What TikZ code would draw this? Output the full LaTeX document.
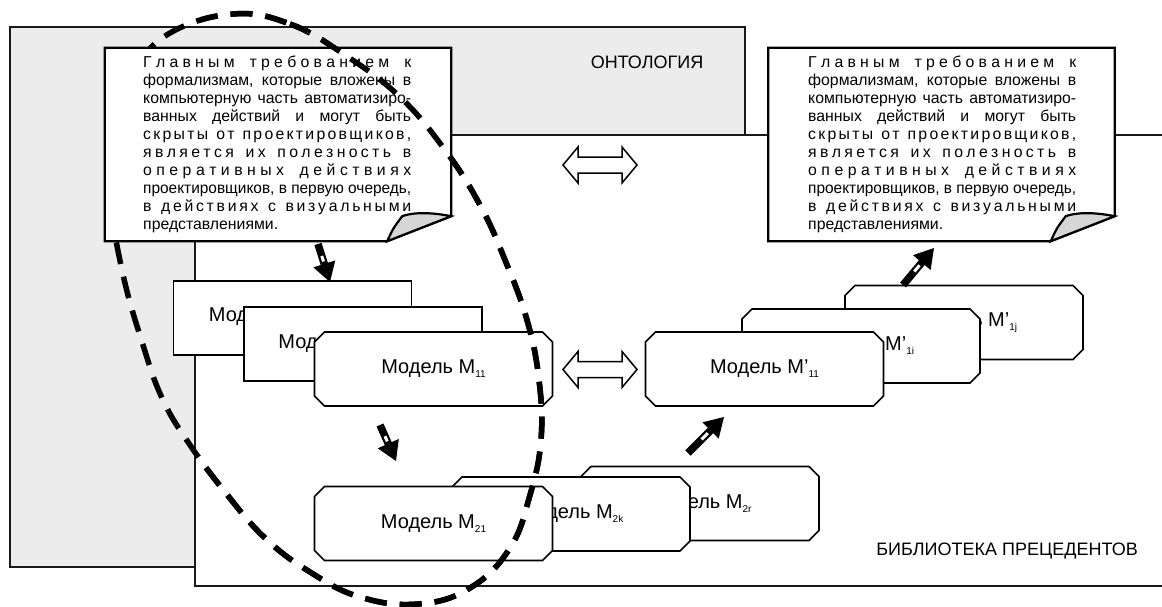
\documentclass[tikz,border=0pt]{standalone}
\usepackage{fontspec}
\usepackage{graphicx}
\setmainfont{Liberation Sans}
\usetikzlibrary{shapes.misc,calc}
\definecolor{ontogray}{RGB}{235,236,235}
\definecolor{flapgray}{RGB}{214,214,214}
\newlength\linew \setlength\linew{268pt}
\newsavebox\linebox
\ExplSyntaxOn
\NewDocumentCommand\spreadline{m}{\makebox[\linew][s]{\str_map_inline:nn{#1}{\str_if_eq:nnTF{##1}{~}{\hskip 0pt plus 2.5fil\relax}{##1\hskip 0pt plus 1fil\relax}}\unskip}}
\ExplSyntaxOff
\newcommand\fitline[1]{\sbox\linebox{#1}\ifdim\wd\linebox>\linew\scalebox{\fpeval{(\the\linew)/(\the\wd\linebox)}}[1]{\usebox\linebox}\else\makebox[\linew][s]{#1}\fi}
\newcommand\lowidx[1]{\raisebox{-4pt}{\fontsize{10}{10}\selectfont #1}}
\newcommand\notetext{\parbox[t]{\linew}{\fontsize{15.8}{18}\selectfont
\spreadline{Главным требованием к}\\
\fitline{формализмам, которые вложены в}\\
\fitline{компьютерную часть автоматизиро-}\\
\fitline{ванных действий и могут быть}\\
\spreadline{скрыты от проектировщиков,}\\
\spreadline{является их полезность в}\\
\spreadline{оперативных действиях}\\
\fitline{проектировщиков, в первую очередь,}\\
\spreadline{в действиях с визуальными}\\
представлениями.}}
\newcommand\notedraw[1]{%
\draw[noteline] (#1.north west) -- (#1.north east) -- ($(#1.south east)+(0,-25)$) -- ($(#1.south east)+(-64,0)$) -- (#1.south west) -- cycle;
\draw[noteline, fill=flapgray] ($(#1.south east)+(-64,0)$) .. controls ($(#1.south east)+(-58,-13)$) .. ($(#1.south east)+(-49,-25)$) .. controls ($(#1.south east)+(-35,-30)$) and ($(#1.south east)+(-15,-28)$) .. ($(#1.south east)+(0,-25)$) -- cycle;}
\newcommand\blockarrow[2]{%
\coordinate (#1hb) at ($(#2)!19pt!(#1)$);
\draw[line width=7.5pt] (#1) -- ($(#2)!17pt!(#1)$);
\fill ($(#1hb)!11.5pt!90:(#2)$) -- (#2) -- ($(#1hb)!11.5pt!-90:(#2)$) -- cycle;
\draw[white, line width=3pt] ($(#1)!0.6!(#1hb)$) -- ($(#1)!0.88!(#1hb)$);}
\newcommand\dblarrow[1]{\draw[line width=1.5pt, fill=white, line join=miter] ($(#1)+(-37,0)$) -- ($(#1)+(-22,-18)$) -- ($(#1)+(-22,-8)$) -- ($(#1)+(22,-8)$) -- ($(#1)+(22,-18)$) -- ($(#1)+(37,0)$) -- ($(#1)+(22,18)$) -- ($(#1)+(22,8)$) -- ($(#1)+(-22,8)$) -- ($(#1)+(-22,18)$) -- cycle;}
\tikzset{
  frameline/.style={line width=2pt, draw=black!90},
  noteline/.style={line width=2.2pt, line join=miter},
  notebg/.style={rectangle, fill=white, draw=none, minimum width=346pt, minimum height=193pt, inner sep=0pt},
  notetxt/.style={inner sep=0pt, anchor=base west},
  mbox/.style={chamfered rectangle, chamfered rectangle xsep=5pt, chamfered rectangle ysep=5pt, draw, line width=1.6pt, fill=white, minimum width=238pt, minimum height=74pt, inner sep=0pt, font=\fontsize{20}{24}\selectfont},
  mlabel/.style={inner sep=0pt, anchor=west, font=\fontsize{20}{24}\selectfont},
  lbl/.style={inner sep=0pt, anchor=base, font=\fontsize{18}{22}\selectfont},
  ovalline/.style={line width=5.5pt, dash pattern=on 22pt off 13pt}
}
\begin{document}
\begin{tikzpicture}[x=1pt,y=-1pt]
\useasboundingbox (0,0) rectangle (1162,606);
% ontology and library regions
\fill[ontogray] (10,27) rectangle (745,567);
\draw[frameline] (10,27) rectangle (745,567);
\fill[white] (195,135) rectangle (1162,586);
\draw[frameline] (1165,135) -- (195,135) -- (195,586) -- (1165,586);
\node[lbl] (onto) at (647,68) {ОНТОЛОГИЯ};
\node[lbl] (lib) at (1007,555) {БИБЛИОТЕКА ПРЕЦЕДЕНТОВ};
% double arrows
\coordinate (dA) at (600,165);
\coordinate (dB) at (600,369.5);
\dblarrow{dA}
\dblarrow{dB}
% right note
\node[notebg] (noteR) at (941.5,144.5) {};
\notedraw{noteR}
\node[notetxt] (noteRtxt) at (808,67) {\notetext};
% left stack
\node[mbox] (mA) at (292.5,318) {};
\node[mlabel] (tA) at ($(mA.west)+(36,0)$) {Модель M\lowidx{1j}};
\node[mbox] (mB) at (363,344) {};
\node[mlabel] (tB) at ($(mB.west)+(35,0)$) {Модель M\lowidx{1i}};
\node[mbox] (mC) at (433.5,369) {Модель M\lowidx{11}};
% right stack
\node[mbox] (mPj) at (964,322.5) {Модель M’\lowidx{1j}};
\node[mbox] (mPi) at (861,346) {Модель M’\lowidx{1i}};
\node[mbox] (mP) at (764.5,369) {Модель M’\lowidx{11}};
% bottom stack
\node[mbox] (m2r) at (700,503.5) {Модель M\lowidx{2r}};
\node[mbox] (m2k) at (571,514) {Модель M\lowidx{2k}};
\node[mbox] (m21) at (433.5,523.5) {Модель M\lowidx{21}};
% block arrows
\coordinate (a1s) at (318,244);
\coordinate (a1e) at (330,282);
\coordinate (a2s) at (380,425);
\coordinate (a2e) at (396,461);
\coordinate (a3s) at (688,453);
\coordinate (a3e) at (724,417);
\coordinate (a4s) at (903,285);
\coordinate (a4e) at (934,248);
\blockarrow{a1s}{a1e}
\blockarrow{a2s}{a2e}
\blockarrow{a3s}{a3e}
\blockarrow{a4s}{a4e}
% dashed oval (behind left note on its left part)
\draw[ovalline] plot[smooth cycle, tension=0.7] coordinates {(233,14) (290,24) (345,55) (400,97) (445,150) (480,205) (505,260) (527,320) (539,380) (541,440) (530,495) (510,548) (470,588) (418,604) (360,597) (310,572) (265,538) (225,492) (190,445) (163,400) (143,345) (122,270) (110,190) (115,120) (135,70) (170,33)};
% left note
\node[notebg] (noteL) at (278,144.5) {};
\notedraw{noteL}
\node[notetxt] (noteLtxt) at (143,67) {\notetext};
% oval over the left note, right part
\begin{scope}
\clip (200,0) rectangle (1162,606);
\draw[ovalline] plot[smooth cycle, tension=0.7] coordinates {(233,14) (290,24) (345,55) (400,97) (445,150) (480,205) (505,260) (527,320) (539,380) (541,440) (530,495) (510,548) (470,588) (418,604) (360,597) (310,572) (265,538) (225,492) (190,445) (163,400) (143,345) (122,270) (110,190) (115,120) (135,70) (170,33)};
\end{scope}
\end{tikzpicture}
\end{document}
